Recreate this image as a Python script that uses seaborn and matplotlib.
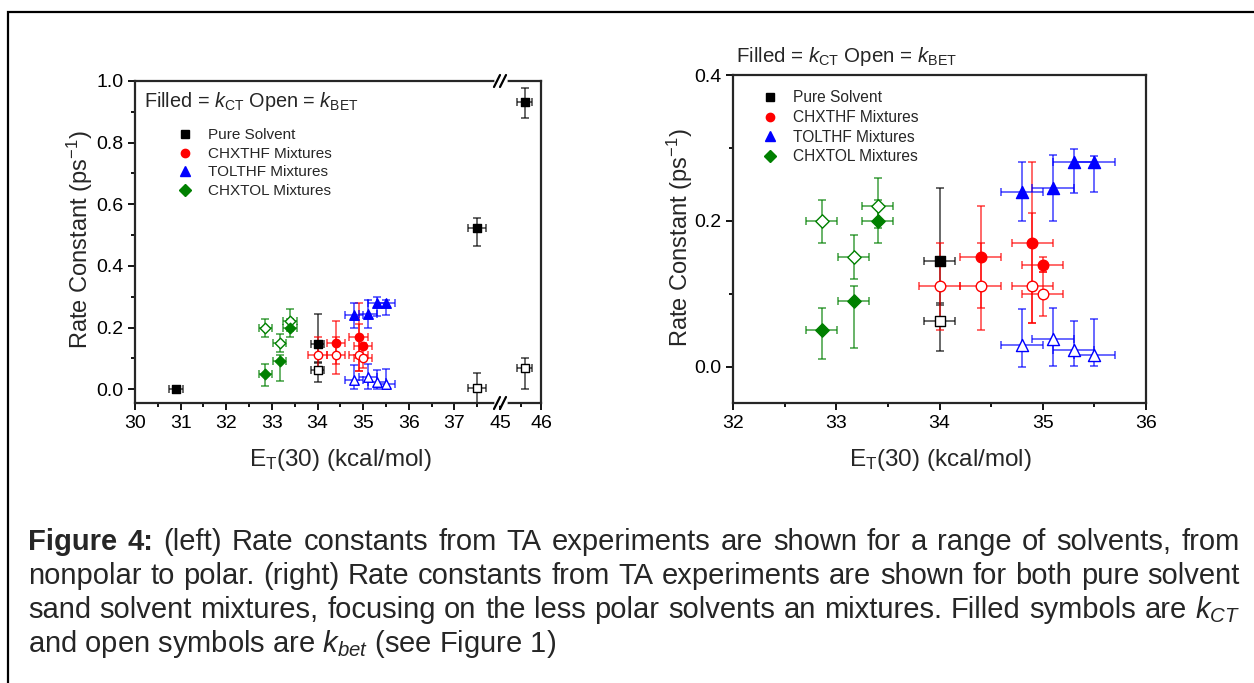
import numpy as np
import pandas as pd
import matplotlib
matplotlib.use("Agg")
import matplotlib.pyplot as plt
import seaborn as sns
from matplotlib.lines import Line2D
from matplotlib.patches import Rectangle
from matplotlib.ticker import MultipleLocator, FormatStrFormatter

# Pure solvents
pure_x = [30.9, 34.0, 37.5, 45.6]
pure_xerr = [0.15, 0.15, 0.2, 0.19]
pure_ct = [0.0, 0.145, 0.524, 0.931]
pure_ct_lo = [0.004, 0.06, 0.06, 0.05]
pure_ct_hi = [0.004, 0.1, 0.03, 0.047]
pure_bet = [np.nan, 0.062, 0.005, 0.067]
pure_bet_lo = [np.nan, 0.04, 0.05, 0.068]
pure_bet_hi = [np.nan, 0.025, 0.046, 0.033]

# CHX/THF mixtures
chxthf_x = [34.0, 34.4, 34.9, 35.0]
chxthf_xerr = [0.2, 0.2, 0.2, 0.2]
chxthf_ct = [np.nan, 0.15, 0.17, 0.14]
chxthf_ct_lo = [np.nan, 0.07, 0.11, 0.01]
chxthf_ct_hi = [np.nan, 0.07, 0.11, 0.01]
chxthf_bet = [0.11, 0.11, 0.11, 0.10]
chxthf_bet_lo = [0.06, 0.06, 0.05, 0.03]
chxthf_bet_hi = [0.06, 0.06, 0.10, 0.03]

# TOL/THF mixtures
tolthf_x = [34.8, 35.1, 35.3, 35.5]
tolthf_xerr = [0.2, 0.2, 0.2, 0.2]
tolthf_ct = [0.24, 0.245, 0.28, 0.28]
tolthf_ct_lo = [0.04, 0.045, 0.042, 0.041]
tolthf_ct_hi = [0.04, 0.045, 0.018, 0.009]
tolthf_bet = [0.03, 0.038, 0.023, 0.016]
tolthf_bet_lo = [0.03, 0.037, 0.022, 0.015]
tolthf_bet_hi = [0.049, 0.042, 0.039, 0.049]

# CHX/TOL mixtures
chxtol_x = [32.86, 33.17, 33.40]
chxtol_xerr = [0.15, 0.15, 0.15]
chxtol_ct = [0.05, 0.09, 0.20]
chxtol_ct_lo = [0.04, 0.065, 0.03]
chxtol_ct_hi = [0.03, 0.02, 0.029]
chxtol_bet = [0.20, 0.15, 0.22]
chxtol_bet_lo = [0.03, 0.03, 0.03]
chxtol_bet_hi = [0.029, 0.03, 0.039]

groups = [
    ("Pure Solvent", "black", "s", pure_x, pure_xerr, pure_ct, pure_ct_lo, pure_ct_hi,
     pure_bet, pure_bet_lo, pure_bet_hi),
    ("CHXTHF Mixtures", "#ff0000", "o", chxthf_x, chxthf_xerr, chxthf_ct, chxthf_ct_lo,
     chxthf_ct_hi, chxthf_bet, chxthf_bet_lo, chxthf_bet_hi),
    ("TOLTHF Mixtures", "#0000ff", "^", tolthf_x, tolthf_xerr, tolthf_ct, tolthf_ct_lo,
     tolthf_ct_hi, tolthf_bet, tolthf_bet_lo, tolthf_bet_hi),
    ("CHXTOL Mixtures", "#008000", "D", chxtol_x, chxtol_xerr, chxtol_ct, chxtol_ct_lo,
     chxtol_ct_hi, chxtol_bet, chxtol_bet_lo, chxtol_bet_hi),
]

sns.set_style("ticks")
plt.rcParams["font.family"] = ["Liberation Sans", "DejaVu Sans"]
plt.rcParams["mathtext.fontset"] = "custom"
plt.rcParams["mathtext.rm"] = "Liberation Sans"
plt.rcParams["mathtext.it"] = "Liberation Sans:italic"
plt.rcParams["mathtext.bf"] = "Liberation Sans:bold"

W, H = 1254, 683
fig = plt.figure(figsize=(W / 100, H / 100), dpi=100)


def px_box(x0, y0, x1, y1):
    return [x0 / W, 1 - y1 / H, (x1 - x0) / W, (y1 - y0) / H]


axL = fig.add_axes(px_box(135, 81, 500, 403))
axB = fig.add_axes(px_box(500, 81, 541, 403), sharey=axL)
axR = fig.add_axes(px_box(733, 75, 1146, 403))


def draw_data(ax, msize):
    for name, col, mk, x, xe, ct, ctlo, cthi, bet, betlo, bethi in groups:
        df = pd.DataFrame({"x": x, "xerr": xe, "ct": ct, "ctlo": ctlo, "cthi": cthi,
                           "bet": bet, "betlo": betlo, "bethi": bethi})
        ms = msize * (1.3 if mk == "^" else (0.8 if mk == "D" else 1.0))
        for k, lo, hi, face in [("bet", "betlo", "bethi", "white"), ("ct", "ctlo", "cthi", col)]:
            d = df.dropna(subset=[k])
            ax.errorbar(d["x"], d[k], yerr=[d[lo], d[hi]], xerr=d["xerr"], fmt="none",
                        ecolor=col, elinewidth=1.1, capsize=3, capthick=1.1, alpha=0.75,
                        zorder=2)
            sns.scatterplot(data=d, x="x", y=k, ax=ax, marker=mk, s=ms, color=face,
                            edgecolor=col, linewidth=1.0, zorder=3, legend=False)
    ax.set_xlabel("")
    ax.set_ylabel("")


draw_data(axL, 36)
draw_data(axB, 36)
draw_data(axR, 58)

tick_kw = dict(direction="out", length=5, width=1.3, labelsize=14, colors="black")
for ax in (axL, axB, axR):
    for sp in ax.spines.values():
        sp.set_linewidth(1.6)
    ax.tick_params(which="both", **tick_kw)
    ax.tick_params(which="minor", length=3)

# left (broken) panel
axL.set_xlim(30, 38)
axL.set_ylim(-0.045, 1.0)
axL.xaxis.set_minor_locator(MultipleLocator(0.5))
axL.yaxis.set_major_locator(MultipleLocator(0.2))
axL.yaxis.set_minor_locator(MultipleLocator(0.1))
axL.set_xticks([30, 31, 32, 33, 34, 35, 36, 37])
axL.yaxis.set_major_formatter(FormatStrFormatter("%.1f"))
axL.spines["right"].set_visible(False)

axB.set_xlim(45, 46)
axB.set_xticks([45, 46])
axB.xaxis.set_minor_locator(MultipleLocator(0.5))
axB.spines["left"].set_visible(False)
axB.tick_params(axis="y", which="both", left=False, labelleft=False)

# break marks
for yy in (81, 403):
    fig.add_artist(Line2D([497 / W, 505 / W], [1 - yy / H, 1 - yy / H],
                          transform=fig.transFigure, color="white", lw=4, zorder=10))
    for dx in (-3, 3):
        xs = [(500 + dx - 3) / W, (500 + dx + 3) / W]
        ys = [1 - (yy + 6) / H, 1 - (yy - 6) / H]
        fig.add_artist(Line2D(xs, ys, transform=fig.transFigure, color="black",
                              lw=1.6, zorder=11))

title = r"Filled = $k_{\mathrm{CT}}$ Open = $k_{\mathrm{BET}}$"
axL.text(0.024, 0.935, title, transform=axL.transAxes, fontsize=14.3,
         va="center", ha="left")

handles = [Line2D([], [], ls="none", marker=mk, color=col, markersize=6 if mk != "^" else 7)
           for name, col, mk, *_ in groups]
labels = [g[0] for g in groups]
axL.legend(handles, labels, frameon=False, fontsize=11, loc="upper left",
           bbox_to_anchor=(0.1, 0.872), handlelength=1.0, handletextpad=1.0,
           labelspacing=0.3, borderaxespad=0)

ylab = r"Rate Constant (ps$^{-1}$)"
xlab = r"E$_{\mathrm{T}}$(30) (kcal/mol)"
fig.text(80 / W, 1 - 240 / H, ylab, fontsize=17, rotation=90, ha="center", va="center")
fig.text(340 / W, 1 - 460 / H, xlab, fontsize=17.5, ha="center", va="center")

# right panel
axR.set_xlim(32, 36)
axR.set_ylim(-0.05, 0.4)
axR.xaxis.set_major_locator(MultipleLocator(1))
axR.xaxis.set_minor_locator(MultipleLocator(0.5))
axR.yaxis.set_major_locator(MultipleLocator(0.2))
axR.yaxis.set_minor_locator(MultipleLocator(0.1))
axR.yaxis.set_major_formatter(FormatStrFormatter("%.1f"))
fig.text(680 / W, 1 - 238 / H, ylab, fontsize=17, rotation=90, ha="center", va="center")
fig.text(940 / W, 1 - 460 / H, xlab, fontsize=17.5, ha="center", va="center")
axR.text(0.008, 1.055, title, transform=axR.transAxes, fontsize=14.8,
         va="center", ha="left")
axR.legend(handles, labels, frameon=False, fontsize=11.2, loc="upper left",
           bbox_to_anchor=(0.055, 0.972), handlelength=1.0, handletextpad=1.0,
           labelspacing=0.3, borderaxespad=0)

# outer frame
fig.add_artist(Rectangle((8 / W, -0.2), 1.2, 1.2 - 12 / H, transform=fig.transFigure,
                         fill=False, ec="black", lw=1.6))

# caption, lines 1-3 justified between x=28 and x=1240
cap_lines = [
    "Figure 4: (left) Rate constants from TA experiments are shown for a range of solvents, from",
    "nonpolar to polar. (right) Rate constants from TA experiments are shown for both pure solvent",
    r"sand solvent mixtures, focusing on the less polar solvents an mixtures. Filled symbols are $k_{CT}$",
]
cap_last = r"and open symbols are $k_{bet}$ (see Figure 1)"
cap_fs = 21
renderer = fig.canvas.get_renderer()
x_left, x_right = 28, 1240
for i, line in enumerate(cap_lines):
    y = 1 - (542 + 34 * i) / H
    words = line.split()
    arts = []
    for j, w in enumerate(words):
        bold = (i == 0 and j < 2)
        t = fig.text(0, y, w, fontsize=cap_fs, ha="left", va="center",
                     fontweight="bold" if bold else "normal")
        arts.append(t)
    widths = [t.get_window_extent(renderer).width for t in arts]
    gap = (x_right - x_left - sum(widths)) / (len(arts) - 1)
    xpos = x_left
    for t, wd in zip(arts, widths):
        t.set_x(xpos / W)
        xpos += wd + gap
fig.text(x_left / W, 1 - (542 + 34 * 3) / H, cap_last, fontsize=cap_fs,
         ha="left", va="center")

fig.savefig("out.png", dpi=100)
